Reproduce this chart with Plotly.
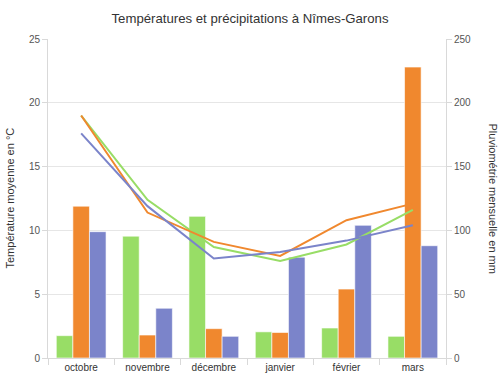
import plotly.graph_objects as go

months = ["octobre", "novembre", "décembre", "janvier", "février", "mars"]

# Précipitations mensuelles (mm) — barres
precip_green = [17.5, 95.5, 111, 20.5, 23.5, 17]
precip_orange = [119, 18, 23, 20, 54, 228]
precip_blue = [99, 39, 17, 79, 104, 88]

# Températures moyennes (°C) — lignes
temp_green = [19.0, 12.4, 8.7, 7.6, 8.9, 11.6]
temp_orange = [19.0, 11.4, 9.1, 8.0, 10.8, 12.1]
temp_blue = [17.6, 11.9, 7.8, 8.3, 9.2, 10.4]

c_green = "#98DD66"
c_orange = "#F0882E"
c_blue = "#7B84CA"

font = "Liberation Sans, Arial, sans-serif"

fig = go.Figure()
for vals, col in [(precip_green, c_green), (precip_orange, c_orange), (precip_blue, c_blue)]:
    fig.add_trace(go.Bar(x=months, y=vals, marker=dict(color=col, line=dict(color="rgba(255,255,255,0.6)", width=1)),
                         yaxis="y", showlegend=False))
for vals, col in [(temp_green, c_green), (temp_orange, c_orange), (temp_blue, c_blue)]:
    fig.add_trace(go.Scatter(x=months, y=vals, mode="lines", line=dict(color=col, width=2),
                             yaxis="y2", showlegend=False))

fig.update_layout(
    width=500, height=380,
    margin=dict(l=48, r=54, t=39, b=22, autoexpand=False),
    paper_bgcolor="white", plot_bgcolor="white",
    font=dict(family=font, size=10, color="#555555"),
    title=dict(text="Températures et précipitations à Nîmes-Garons", x=0.5, xanchor="center",
               y=1 - 18 / 380, yanchor="middle", font=dict(size=13.2, color="#333333")),
    barmode="group", bargap=0.25, bargroupgap=0,
    xaxis=dict(type="category", tickson="boundaries", ticks="outside", ticklen=6, tickcolor="#d9d9d9",
               showline=True, linecolor="#d9d9d9", showgrid=False, automargin=False,
               tickfont=dict(size=10, color="#333333")),
    yaxis=dict(side="right", range=[0, 250], tickvals=[0, 50, 100, 150, 200, 250], showgrid=True,
               gridcolor="#e6e6e6", showline=True, linecolor="#d9d9d9", ticks="outside", ticklen=5,
               tickcolor="#d9d9d9", zeroline=False, automargin=False,
               tickfont=dict(size=10, color="#555555")),
    yaxis2=dict(side="left", overlaying="y", range=[0, 25], tickvals=[0, 5, 10, 15, 20, 25], showgrid=False,
                showline=True, linecolor="#d9d9d9", ticks="outside", ticklen=5, tickcolor="#d9d9d9",
                zeroline=False, automargin=False, tickfont=dict(size=10, color="#555555")),
    annotations=[
        dict(text="Température moyenne en °C", xref="paper", yref="paper", x=(9 - 48) / 398, y=0.5,
             xanchor="center", yanchor="middle", textangle=-90, showarrow=False,
             font=dict(size=11, color="#333333")),
        dict(text="Pluviométrie mensuelle en mm", xref="paper", yref="paper", x=(493 - 48) / 398, y=0.5,
             xanchor="center", yanchor="middle", textangle=90, showarrow=False,
             font=dict(size=11, color="#333333")),
    ],
)

fig.write_html("out.html", config={"displayModeBar": False, "staticPlot": True},
               post_script="document.body.style.margin='0';document.body.style.overflow='hidden';")
